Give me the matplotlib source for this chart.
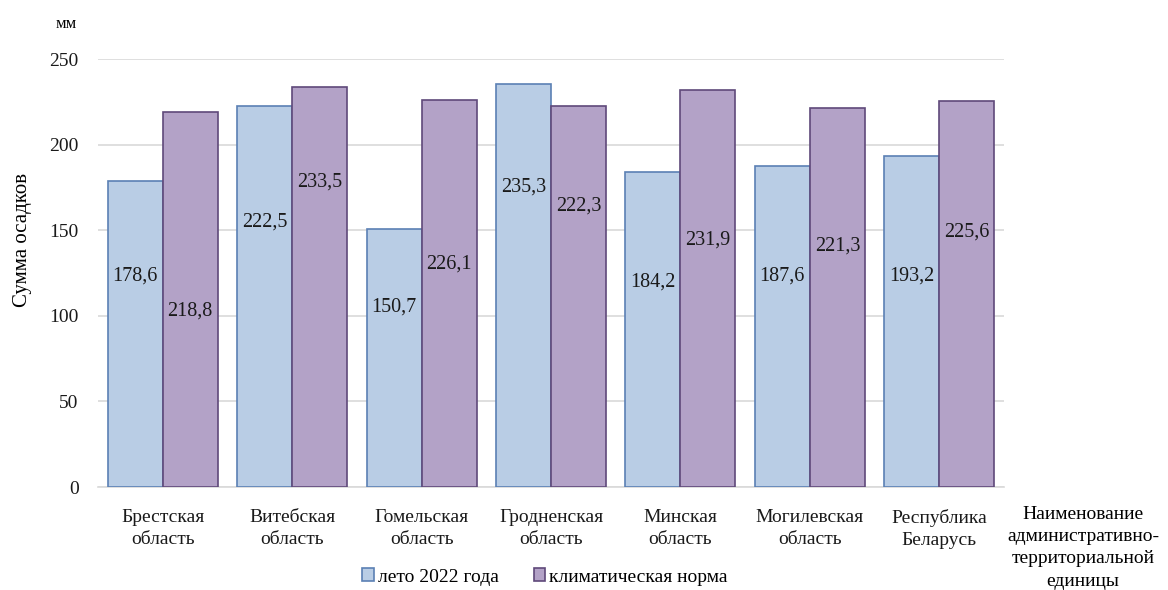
import numpy as np
from matplotlib import pyplot as plt

plt.rcParams['font.family'] = ['Liberation Serif', 'DejaVu Serif']

regions = ['Брестская\nобласть', 'Витебская\nобласть', 'Гомельская\nобласть',
           'Гродненская\nобласть', 'Минская\nобласть', 'Могилевская\nобласть',
           'Республика\nБеларусь']
summer_2022 = [178.6, 222.5, 150.7, 235.3, 184.2, 187.6, 193.2]
climate_norm = [218.8, 233.5, 226.1, 222.3, 231.9, 221.3, 225.6]
series_names = ['лето 2022 года', 'климатическая норма']

# where the data labels sit inside the bars (axis units), as placed in the source
summer_label_y = [123, 155, 105, 175, 120, 123, 123]
norm_label_y = [103, 178, 130, 164, 144, 141, 149]

fig = plt.figure(figsize=(11.68, 5.9), dpi=100)
ax = fig.add_axes([98 / 1168, 1 - 487 / 590, 906 / 1168, 428 / 590])

x = np.arange(len(regions))
w = 0.425
ax.bar(x - w / 2, summer_2022, w, color='#b9cde5', edgecolor='#5b80b4',
       linewidth=1.2, label=series_names[0], zorder=3)
ax.bar(x + w / 2, climate_norm, w, color='#b3a2c7', edgecolor='#5f497a',
       linewidth=1.2, label=series_names[1], zorder=3)

for xi, v, ly in zip(x, summer_2022, summer_label_y):
    ax.text(xi - w / 2, ly, f'{v:.1f}'.replace('.', ','), ha='center',
            va='center', fontsize=14.5, color='#1a1a1a', zorder=4)
for xi, v, ly in zip(x, climate_norm, norm_label_y):
    ax.text(xi + w / 2, ly, f'{v:.1f}'.replace('.', ','), ha='center',
            va='center', fontsize=14.5, color='#1a1a1a', zorder=4)

ax.set_xlim(-0.5, len(regions) - 0.5)
ax.set_ylim(0, 250)
ax.set_yticks(np.arange(0, 251, 50))
ax.yaxis.grid(True, color='#d9d9d9', linewidth=1.2, zorder=0)
ax.set_axisbelow(True)
for s in ['top', 'right', 'left']:
    ax.spines[s].set_visible(False)
ax.spines['bottom'].set_color('#d9d9d9')
ax.spines['bottom'].set_linewidth(1.2)
ax.tick_params(axis='both', length=0, labelsize=14, colors='#1a1a1a')
ax.tick_params(axis='y', pad=14)
ax.tick_params(axis='x', pad=16)
ax.set_xticks(x)
ax.set_xticklabels(regions, linespacing=1.4)

fig.text(66 / 1168, 1 - 24 / 590, 'мм', ha='center', va='center', fontsize=12)
fig.text(23 / 1168, 1 - 240 / 590, 'Сумма осадков', rotation=90, ha='center',
         va='center', fontsize=15)
fig.text(1083 / 1168, 1 - 506 / 590,
         'Наименование\nадминистративно-\nтерриториальной\nединицы',
         ha='center', va='top', fontsize=14, linespacing=1.4)

ax.legend(loc='center', bbox_to_anchor=(545 / 1168, 1 - 577 / 590),
          bbox_transform=fig.transFigure, ncol=2, frameon=False, fontsize=14,
          handlelength=0.6, handleheight=0.6, handletextpad=0.2,
          columnspacing=1.8)

fig.savefig('out.png', dpi=100)
